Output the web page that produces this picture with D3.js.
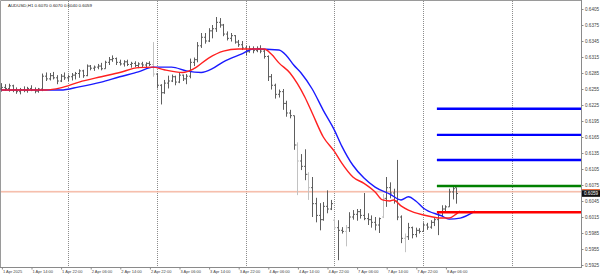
<!DOCTYPE html>
<html>
<head>
<meta charset="utf-8">
<script src="https://cdn.jsdelivr.net/npm/d3@7/dist/d3.min.js"></script>
<style>
  body { margin: 0; background: #fff; }
  svg { display: block; }
</style>
</head>
<body>
<script>
'use strict';

// chart header
const title = "AUDUSD,H1  0.6070 0.6070 0.6040 0.6059";

// hourly OHLC, bar 0 = 1 Apr 06:00
const opens = [.6255,.6258,.6256,.6261,.6253,.6250,.6254,.6252,.6256,.6253,.6251,.6255,.6279,.6274,.6280,.6276,.6270,.6279,.6276,.6278,
  .6281,.6284,.6289,.6280,.6298,.6294,.6296,.6298,.6293,.6305,.6310,.6312,.6305,.6302,.6306,.6301,.6303,.6299,.6302,.6300,
  .6303,.6301,.6283,.6262,.6248,.6266,.6270,.6278,.6268,.6281,.6274,.6279,.6305,.6310,.6336,.6352,.6345,.6364,.6368,.6380,
  .6375,.6358,.6350,.6355,.6343,.6338,.6332,.6325,.6330,.6327,.6331,.6326,.6316,.6278,.6262,.6245,.6250,.6228,.6210,.6205,
  .6150,.6120,.6110,.6095,.6070,.6040,.6018,.6010,.6035,.6030,.6009,.5995,.5990,.5988,.5995,.6015,.6020,.6025,.6018,.6012,
  .6010,.6005,.6000,.6015,.6050,.6070,.6060,.6045,.6015,.5975,.5978,.5995,.5982,.5990,.5988,.6000,.5996,.6005,.6010,.6018,
  .6030,.6034,.6062,.6070];
const highs = [.6266,.6264,.6265,.6263,.6258,.6257,.6260,.6259,.6262,.6258,.6257,.6284,.6286,.6285,.6287,.6281,.6283,.6286,.6282,.6285,
  .6287,.6292,.6291,.6301,.6300,.6299,.6302,.6304,.6308,.6315,.6318,.6314,.6310,.6309,.6310,.6306,.6307,.6305,.6306,.6305,
  .6307,.6343,.6285,.6264,.6272,.6280,.6282,.6280,.6285,.6282,.6283,.6312,.6314,.6343,.6360,.6360,.6369,.6375,.6390,.6388,
  .6377,.6363,.6360,.6356,.6347,.6345,.6336,.6336,.6335,.6335,.6337,.6330,.6318,.6283,.6265,.6254,.6255,.6233,.6216,.6205,
  .6155,.6133,.6142,.6099,.6090,.6051,.6041,.6043,.6065,.6047,.6012,.6009,.5996,.6000,.6024,.6028,.6030,.6030,.6060,.6022,
  .6018,.6015,.6014,.6058,.6090,.6080,.6068,.6122,.6018,.5984,.6004,.5997,.5995,.5994,.6005,.6004,.6009,.6013,.6024,.6037,
  .6037,.6068,.6072,.6070];
const lows = [.6250,.6252,.6250,.6249,.6246,.6245,.6249,.6248,.6251,.6247,.6248,.6251,.6270,.6271,.6273,.6264,.6268,.6272,.6270,.6271,
  .6273,.6276,.6276,.6279,.6290,.6289,.6292,.6290,.6293,.6300,.6306,.6300,.6299,.6297,.6298,.6295,.6296,.6294,.6296,.6295,
  .6298,.6278,.6256,.6226,.6246,.6256,.6268,.6262,.6266,.6270,.6264,.6275,.6298,.6305,.6332,.6340,.6343,.6350,.6362,.6370,
  .6354,.6346,.6344,.6340,.6334,.6328,.6318,.6323,.6322,.6324,.6322,.6312,.6270,.6254,.6237,.6239,.6216,.6203,.6200,.6141,
  .6056,.6103,.6084,.6047,.6015,.6005,.5990,.6008,.6022,.6028,.5991,.5934,.5984,.5960,.5987,.6010,.6008,.6012,.6009,.6000,
  .5995,.5990,.5985,.6013,.6034,.6050,.6040,.6009,.5966,.5949,.5972,.5975,.5977,.5984,.5987,.5991,.5993,.5998,.5981,.6015,
  .6024,.6034,.6048,.6040];
const closes = [.6258,.6256,.6261,.6253,.6250,.6254,.6252,.6256,.6253,.6251,.6255,.6279,.6274,.6280,.6276,.6270,.6279,.6276,.6278,.6281,
  .6284,.6289,.6280,.6298,.6294,.6296,.6298,.6293,.6305,.6310,.6312,.6305,.6302,.6306,.6301,.6303,.6299,.6302,.6300,.6303,
  .6301,.6283,.6262,.6248,.6266,.6270,.6278,.6268,.6281,.6274,.6279,.6305,.6310,.6336,.6352,.6345,.6364,.6368,.6380,.6375,
  .6358,.6350,.6355,.6343,.6338,.6332,.6325,.6330,.6327,.6331,.6326,.6316,.6278,.6262,.6245,.6250,.6228,.6210,.6205,.6150,
  .6120,.6110,.6095,.6070,.6040,.6018,.6010,.6035,.6030,.6040,.5995,.5990,.5988,.5995,.6015,.6020,.6025,.6018,.6012,.6010,
  .6005,.6000,.6012,.6050,.6070,.6060,.6045,.6015,.5975,.5978,.5995,.5982,.5990,.5988,.6000,.5996,.6005,.6010,.6018,.6030,
  .6034,.6062,.6068,.6059];
// bars drawn in light grey
const lightBars = [41, 80, 83, 90, 93, 103, 109];

// moving averages, [bar, price]
const redMa = [[0,.6253],[12,.6253],[16,.6257],[21,.6268],[27,.6278],[32,.6286],[37,.6295],[41,.6296],[44,.6291],[49,.6286],
  [52,.6293],[56,.6313],[60,.6326],[64,.6330],[71,.6330],[73,.6320],[75,.6304],[78,.6285],[80,.6265],[82,.6240],[84,.6210],
  [87,.6165],[90,.6138],[92,.6116],[95,.6090],[98,.6078],[101,.6062],[103,.6047],[105,.6045],[106,.6047],[108,.6036],
  [110,.6028],[114,.6019],[119,.6013],[121,.6013],[123,.6021],[124,.6026]];
const blueMa = [[0,.6253],[16,.6253],[21,.6259],[27,.6268],[32,.6278],[37,.6287],[41,.6296],[46,.6296],[50,.6289],[54,.6286],
  [57,.6293],[60,.6306],[65,.6321],[68,.6330],[75,.6328],[77,.6318],[79,.6300],[81,.6285],[84,.6255],[87,.6215],[90,.6178],
  [92,.6148],[95,.6112],[98,.6088],[101,.6071],[105,.6058],[108,.6047],[110,.6053],[112,.6045],[114,.6032],[119,.6017],
  [121,.6011],[124,.6013],[128,.6026]];

// horizontal levels drawn from bar 118 to the price scale
const levelPrices = [.6218, .6169, .6122, .6073, .6024];
const levelColors = ["#0000ff", "#0000ff", "#0000ff", "#008000", "#ff0000"];
const levelStart = 117.7;

// ask / bid lines
const askPrice = .6063;
const bidPrice = .6061;
const lastLabel = "0.6059";

// axes
const priceTicks = [.6405,.6375,.6345,.6315,.6285,.6255,.6225,.6195,.6165,.6135,.6105,.6075,.6045,.6015,.5985,.5955,.5925];
const timeLabels = ["1 Apr 2025","1 Apr 14:00","1 Apr 22:00","2 Apr 06:00","2 Apr 14:00","2 Apr 22:00","3 Apr 06:00",
  "3 Apr 14:00","3 Apr 22:00","4 Apr 06:00","4 Apr 14:00","4 Apr 22:00","7 Apr 06:00","7 Apr 14:00","7 Apr 22:00","8 Apr 06:00"];
const timeLabelBars = [0,8,16,24,32,40,48,56,64,72,80,88,96,104,112,120];
const daySeparators = [18, 42, 66, 90, 114, 138];

const width = 600, height = 277;
const plotRight = 581, plotBottom = 267;

const svg = d3.select("body").append("svg")
  .attr("width", width)
  .attr("height", height);

// bar index -> x, price -> y
const x = d3.scaleLinear().domain([0, 100]).range([1.4, 371.4]);
const y = d3.scaleLinear().domain([0.5925, 0.6405]).range([265, 9]);

const px = (i) => Math.round(x(i)) + 0.5;

// frame
svg.append("path")
  .attr("d", `M0.5,${plotBottom} V0.5 H${plotRight}`)
  .attr("fill", "none")
  .attr("stroke", "#9a9a9a");

// day separators
svg.append("g").selectAll("line")
  .data(daySeparators)
  .enter().append("line")
  .attr("x1", (d) => px(d)).attr("x2", (d) => px(d))
  .attr("y1", 1).attr("y2", plotBottom)
  .attr("stroke", "#8c8c8c")
  .attr("stroke-dasharray", "1,1");

// ask / bid lines
svg.append("line")
  .attr("x1", 1).attr("x2", plotRight)
  .attr("y1", y(askPrice)).attr("y2", y(askPrice))
  .attr("stroke", "#f3a58c").attr("stroke-width", 0.8);
svg.append("line")
  .attr("x1", 1).attr("x2", plotRight)
  .attr("y1", y(bidPrice)).attr("y2", y(bidPrice))
  .attr("stroke", "#f8d2c4").attr("stroke-width", 0.8);

// OHLC bars
const bars = svg.append("g");
opens.forEach((o, i) => {
  let cx = px(i);
  bars.append("path")
    .attr("d", `M${cx},${y(highs[i])} V${y(lows[i])} M${cx - 1.5},${y(o)} H${cx} M${cx},${y(closes[i])} H${cx + 1.5}`)
    .attr("fill", "none")
    .attr("stroke", lightBars.includes(i) ? "#c2c2c2" : "#5e5e5e")
    .attr("stroke-width", 1);
});

// moving averages
const maLine = d3.line()
  .x((d) => x(d[0]))
  .y((d) => y(d[1]))
  .curve(d3.curveMonotoneX);

svg.append("path")
  .attr("d", maLine(blueMa))
  .attr("fill", "none")
  .attr("stroke", "#1a1aff")
  .attr("stroke-width", 1.4);

svg.append("path")
  .attr("d", maLine(redMa))
  .attr("fill", "none")
  .attr("stroke", "#ff2020")
  .attr("stroke-width", 1.4);

// levels
svg.append("g").selectAll("line")
  .data(levelPrices)
  .enter().append("line")
  .attr("x1", x(levelStart)).attr("x2", plotRight)
  .attr("y1", (d) => y(d)).attr("y2", (d) => y(d))
  .attr("stroke", (d, i) => levelColors[i])
  .attr("stroke-width", 2.4);

// price scale
svg.append("line")
  .attr("x1", plotRight + 0.5).attr("x2", plotRight + 0.5)
  .attr("y1", 0).attr("y2", plotBottom)
  .attr("stroke", "#8a8a8a");

const yAxis = d3.axisRight(y)
  .tickValues(priceTicks)
  .tickSize(2)
  .tickPadding(1.5)
  .tickFormat(d3.format(".4f"));

svg.append("g")
  .attr("transform", `translate(${plotRight + 0.5},0)`)
  .call(yAxis)
  .call((g) => g.select(".domain").remove())
  .call((g) => g.selectAll("line").attr("stroke", "#8a8a8a"))
  .call((g) => g.selectAll("text")
    .attr("fill", "#444")
    .style("font-family", "'Liberation Sans', Arial, sans-serif")
    .style("font-size", "4.6px"));

// last price label
const lastY = y(.6059);
svg.append("rect")
  .attr("x", plotRight + 1).attr("y", lastY - 4.5)
  .attr("width", 18).attr("height", 1.2)
  .attr("fill", "#f06a3a");
svg.append("rect")
  .attr("x", plotRight + 1).attr("y", lastY - 3.3)
  .attr("width", 18).attr("height", 6.6)
  .attr("fill", "#111");
svg.append("text")
  .attr("x", plotRight + 3).attr("y", lastY + 1.7)
  .attr("fill", "#fff")
  .style("font-family", "'Liberation Sans', Arial, sans-serif")
  .style("font-size", "4.6px")
  .text(lastLabel);

// time scale
svg.append("line")
  .attr("x1", 0).attr("x2", plotRight + 1)
  .attr("y1", plotBottom + 0.5).attr("y2", plotBottom + 0.5)
  .attr("stroke", "#8a8a8a");

const xAxis = d3.axisBottom(x)
  .tickValues(timeLabelBars)
  .tickSize(2)
  .tickPadding(1)
  .tickFormat((d, i) => timeLabels[i]);

svg.append("g")
  .attr("transform", `translate(0.5,${plotBottom + 0.5})`)
  .call(xAxis)
  .call((g) => g.select(".domain").remove())
  .call((g) => g.selectAll("line").attr("stroke", "#8a8a8a"))
  .call((g) => g.selectAll("text")
    .attr("text-anchor", "start")
    .attr("x", 0.5)
    .attr("fill", "#444")
    .style("font-family", "'Liberation Sans', Arial, sans-serif")
    .style("font-size", "4px"));

// title
svg.append("text")
  .attr("x", 8).attr("y", 6.8)
  .attr("fill", "#222")
  .style("font-family", "'Liberation Sans', Arial, sans-serif")
  .style("font-size", "4.4px")
  .text(title);
</script>
</body>
</html>
